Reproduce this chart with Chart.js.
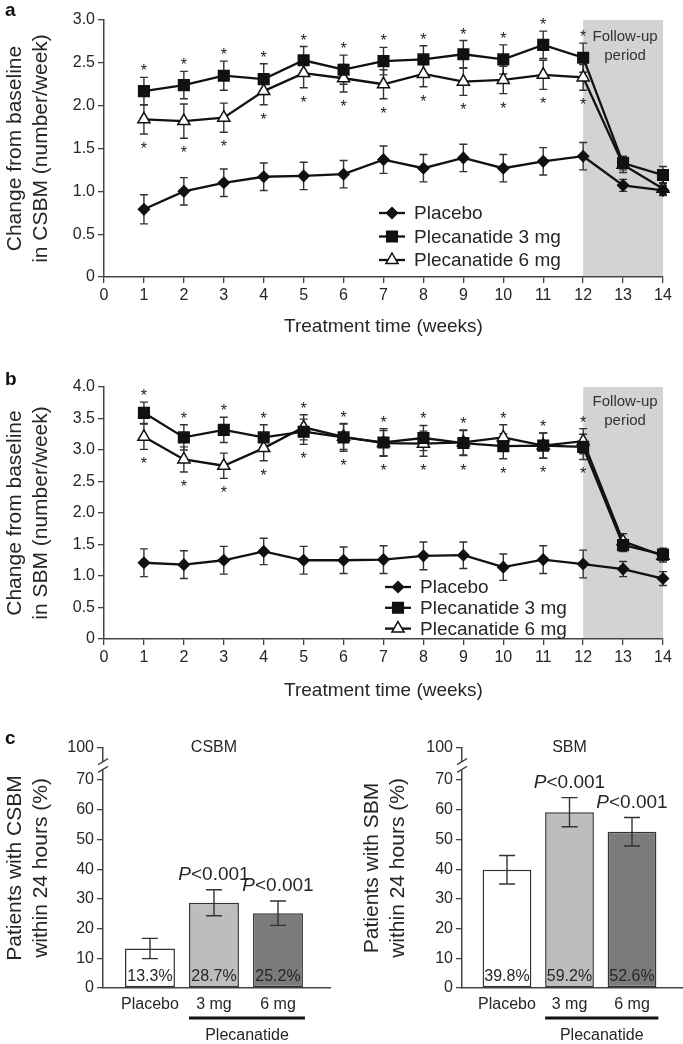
<!DOCTYPE html>
<html>
<head>
<meta charset="utf-8">
<script src="https://cdn.jsdelivr.net/npm/chart.js@4.4.1/dist/chart.umd.min.js"></script>
<style>
  body { margin: 0; background: #fff; width: 683px; height: 1044px; position: relative; overflow: hidden; font-family: "Liberation Sans", Arial, sans-serif; }
  canvas { position: absolute; }
  .panel { position: absolute; font-weight: bold; font-size: 19px; color: #111; z-index: 2; }
</style>
</head>
<body>
<canvas id="chartA" width="683" height="340" style="left:0;top:0"></canvas>
<canvas id="chartB" width="683" height="342" style="left:0;top:362px"></canvas>
<canvas id="chartC1" width="341" height="314" style="left:0;top:730px"></canvas>
<canvas id="chartC2" width="328" height="314" style="left:355px;top:730px"></canvas>
<div class="panel" style="left:5px;top:-1px">a</div>
<div class="panel" style="left:5px;top:368px">b</div>
<div class="panel" style="left:5px;top:727px">c</div>
<script>
// ---- data ----
const WEEKS = [1, 2, 3, 4, 5, 6, 7, 8, 9, 10, 11, 12, 13, 14];
const X_TICKS = [0, 1, 2, 3, 4, 5, 6, 7, 8, 9, 10, 11, 12, 13, 14];
const STAR_WEEKS = [1, 2, 3, 4, 5, 6, 7, 8, 9, 10, 11, 12];
const SERIES = ['Placebo', 'Plecanatide 3 mg', 'Plecanatide 6 mg'];
const FOLLOW_UP = ['Follow-up', 'period'];

// panel a: CSBM
const A_Y_TICKS = [0, 0.5, 1, 1.5, 2, 2.5, 3];
const A_PLACEBO = [0.79, 1.00, 1.10, 1.17, 1.18, 1.20, 1.37, 1.27, 1.39, 1.27, 1.35, 1.41, 1.07, 1.01];
const A_PLACEBO_SEM = [0.17, 0.16, 0.16, 0.16, 0.16, 0.16, 0.16, 0.16, 0.16, 0.16, 0.16, 0.16, 0.07, 0.06];
const A_3MG = [2.17, 2.24, 2.35, 2.31, 2.53, 2.42, 2.52, 2.54, 2.60, 2.54, 2.71, 2.56, 1.33, 1.19];
const A_3MG_SEM = [0.16, 0.16, 0.17, 0.18, 0.16, 0.17, 0.16, 0.16, 0.16, 0.17, 0.16, 0.17, 0.08, 0.10];
const A_6MG = [1.84, 1.82, 1.86, 2.17, 2.38, 2.32, 2.25, 2.37, 2.28, 2.30, 2.36, 2.33, 1.31, 1.03];
const A_6MG_SEM = [0.17, 0.20, 0.17, 0.16, 0.17, 0.16, 0.17, 0.15, 0.16, 0.16, 0.17, 0.15, 0.09, 0.07];

// panel b: SBM
const B_Y_TICKS = [0, 0.5, 1, 1.5, 2, 2.5, 3, 3.5, 4];
const B_PLACEBO = [1.21, 1.18, 1.25, 1.39, 1.25, 1.25, 1.26, 1.32, 1.33, 1.14, 1.26, 1.19, 1.11, 0.96];
const B_PLACEBO_SEM = [0.22, 0.22, 0.22, 0.21, 0.22, 0.21, 0.22, 0.22, 0.21, 0.21, 0.22, 0.22, 0.12, 0.11];
const B_3MG = [3.59, 3.20, 3.32, 3.20, 3.29, 3.20, 3.12, 3.19, 3.11, 3.06, 3.07, 3.05, 1.49, 1.34];
const B_3MG_SEM = [0.17, 0.20, 0.20, 0.20, 0.20, 0.22, 0.22, 0.20, 0.20, 0.20, 0.20, 0.20, 0.10, 0.10];
const B_6MG = [3.21, 2.85, 2.75, 3.03, 3.36, 3.21, 3.11, 3.10, 3.12, 3.20, 3.07, 3.14, 1.55, 1.32];
const B_6MG_SEM = [0.20, 0.20, 0.20, 0.20, 0.20, 0.20, 0.20, 0.20, 0.20, 0.20, 0.20, 0.20, 0.12, 0.10];

// panel c: bars
const BAR_CATS = ['Placebo', '3 mg', '6 mg'];
const BAR_Y_TICKS = [0, 10, 20, 30, 40, 50, 60, 70];
const CSBM_PCT = [13.3, 28.7, 25.2];
const CSBM_SEM = [3.4, 4.4, 4.1];
const SBM_PCT = [39.8, 59.2, 52.6];
const SBM_SEM = [4.8, 4.9, 4.8];
const P_LABELS = ['', 'P<0.001', 'P<0.001'];
const GROUP_LABEL = 'Plecanatide';

// ---- styling ----
const FONT = '"Liberation Sans", Arial, sans-serif';
const INK = '#262626';
const AXIS = '#444';

function marker(ctx, style, x, y, r, fill) {
  ctx.beginPath();
  if (style === 'rect') { const s = r * Math.SQRT1_2; ctx.rect(x - s, y - s, 2 * s, 2 * s); }
  else if (style === 'rectRot') { ctx.moveTo(x, y - r); ctx.lineTo(x + r, y); ctx.lineTo(x, y + r); ctx.lineTo(x - r, y); ctx.closePath(); }
  else { ctx.moveTo(x, y - r); ctx.lineTo(x + r * 0.866, y + r * 0.5); ctx.lineTo(x - r * 0.866, y + r * 0.5); ctx.closePath(); }
  ctx.fillStyle = fill; ctx.fill();
  ctx.lineWidth = 1.5; ctx.strokeStyle = '#111'; ctx.stroke();
}

function val(d) { return typeof d === 'object' ? d.y : d; }

function drawErrors(chart, cap) {
  const { ctx, scales: { y } } = chart;
  ctx.save();
  ctx.strokeStyle = '#333'; ctx.lineWidth = 1.4;
  chart.data.datasets.forEach((ds, di) => {
    if (!ds.errors) return;
    chart.getDatasetMeta(di).data.forEach((el, i) => {
      const v = val(ds.data[i]), e = ds.errors[i];
      const yt = y.getPixelForValue(v + e), yb = y.getPixelForValue(v - e);
      ctx.beginPath();
      ctx.moveTo(el.x, yt); ctx.lineTo(el.x, yb);
      ctx.moveTo(el.x - cap, yt); ctx.lineTo(el.x + cap, yt);
      ctx.moveTo(el.x - cap, yb); ctx.lineTo(el.x + cap, yb);
      ctx.stroke();
    });
  });
  ctx.restore();
}

// line panels: shading, error bars, stars, legend
const linePlugin = {
  id: 'lineDecor',
  beforeDatasetsDraw(chart, args, o) {
    const { ctx, chartArea: ca, scales: { x } } = chart;
    const x1 = x.getPixelForValue(12), x2 = x.getPixelForValue(14);
    ctx.save();
    ctx.fillStyle = '#d3d3d3';
    ctx.fillRect(x1, ca.top, x2 - x1, ca.bottom - ca.top - 1);
    ctx.fillStyle = '#333'; ctx.font = '15px ' + FONT;
    ctx.textAlign = 'center'; ctx.textBaseline = 'middle';
    FOLLOW_UP.forEach((t, i) => ctx.fillText(t, (x1 + x2) / 2 + 2, ca.top + o.followY + i * 19));
    ctx.restore();
    drawErrors(chart, 4);
  },
  afterDatasetsDraw(chart, args, o) {
    const { ctx, scales: { x, y } } = chart;
    const ds = chart.data.datasets;
    ctx.save();
    ctx.fillStyle = '#222'; ctx.font = '16px ' + FONT;
    ctx.textAlign = 'center'; ctx.textBaseline = 'alphabetic';
    STAR_WEEKS.forEach(w => {
      const i = WEEKS.indexOf(w);
      const top = Math.max(ds[1].data[i].y + ds[1].errors[i], ds[2].data[i].y + ds[2].errors[i]);
      const bot = Math.min(ds[1].data[i].y - ds[1].errors[i], ds[2].data[i].y - ds[2].errors[i]);
      const px = x.getPixelForValue(w);
      ctx.fillText('*', px, y.getPixelForValue(top) - 10 + 9);
      ctx.fillText('*', px, y.getPixelForValue(bot) + 11 + 9);
    });
    // legend
    const L = o.legend;
    ds.forEach((d, i) => {
      const ly = L.y + i * L.row;
      ctx.strokeStyle = '#111'; ctx.lineWidth = 2.3;
      ctx.beginPath(); ctx.moveTo(L.x, ly); ctx.lineTo(L.x + 26, ly); ctx.stroke();
      marker(ctx, d.pointStyle, L.x + 13, ly, d.pointRadius, d.pointBackgroundColor);
      ctx.fillStyle = INK; ctx.font = '19px ' + FONT;
      ctx.textAlign = 'left'; ctx.textBaseline = 'middle';
      ctx.fillText(d.label, L.x + 35, ly + 1);
    });
    ctx.restore();
  }
};

function lineChart(id, c) {
  const mk = (label, vals, errs, style, r, fill) => ({
    label, data: WEEKS.map((w, i) => ({ x: w, y: vals[i] })), errors: errs,
    borderColor: '#111', borderWidth: 2.3, tension: 0, clip: false,
    pointStyle: style, pointRadius: r, pointBackgroundColor: fill,
    pointBorderColor: '#111', pointBorderWidth: 1.5
  });
  return new Chart(document.getElementById(id), {
    type: 'line',
    data: { datasets: [
      mk(SERIES[0], c.placebo, c.placeboErr, 'rectRot', 5.5, '#111'),
      mk(SERIES[1], c.mg3, c.mg3Err, 'rect', 7.5, '#111'),
      mk(SERIES[2], c.mg6, c.mg6Err, 'triangle', 7, '#fff')
    ] },
    plugins: [linePlugin],
    options: {
      responsive: false, animation: false, events: [],
      layout: { padding: { top: c.top, right: 20, left: 0, bottom: 0 } },
      plugins: { legend: { display: false }, tooltip: { enabled: false },
        lineDecor: { legend: c.legend, followY: c.followY } },
      scales: {
        x: {
          type: 'linear', min: 0, max: 14,
          afterFit: s => { s.height = c.xH; },
          afterBuildTicks: s => { s.ticks = X_TICKS.map(v => ({ value: v })); },
          ticks: { font: { family: FONT, size: 16 }, color: INK, padding: 3, maxRotation: 0, autoSkip: false },
          grid: { drawOnChartArea: false, tickLength: 6, color: AXIS, lineWidth: 1.3 },
          border: { color: AXIS, width: 1.5 },
          title: { display: true, text: 'Treatment time (weeks)', font: { family: FONT, size: 19 }, color: INK, padding: { top: 0, bottom: 2 } }
        },
        y: {
          min: 0, max: c.ymax,
          afterFit: s => { s.width = 104; },
          afterBuildTicks: s => { s.ticks = c.yTicks.map(v => ({ value: v })); },
          ticks: { font: { family: FONT, size: 16 }, color: INK, padding: 3, callback: v => v === 0 ? '0' : v.toFixed(1) },
          grid: { drawOnChartArea: false, tickLength: 6, color: AXIS, lineWidth: 1.3 },
          border: { color: AXIS, width: 1.5 },
          title: { display: true, text: c.ytitle, font: { family: FONT, size: 21 }, color: INK, padding: { top: 3, bottom: 0 } }
        }
      }
    }
  });
}

lineChart('chartA', {
  placebo: A_PLACEBO, placeboErr: A_PLACEBO_SEM, mg3: A_3MG, mg3Err: A_3MG_SEM, mg6: A_6MG, mg6Err: A_6MG_SEM,
  ymax: 3, yTicks: A_Y_TICKS, top: 20, xH: 63, followY: 17,
  ytitle: ['Change from baseline', 'in CSBM (number/week)'],
  legend: { x: 379, y: 213, row: 23.5 }
});
lineChart('chartB', {
  placebo: B_PLACEBO, placeboErr: B_PLACEBO_SEM, mg3: B_3MG, mg3Err: B_3MG_SEM, mg6: B_6MG, mg6Err: B_6MG_SEM,
  ymax: 4, yTicks: B_Y_TICKS, top: 25, xH: 65, followY: 15,
  ytitle: ['Change from baseline', 'in SBM (number/week)'],
  legend: { x: 385, y: 225, row: 20.8 }
});

// bar panels
const barPlugin = {
  id: 'barDecor',
  afterDatasetsDraw(chart, args, o) {
    const { ctx, chartArea: ca, scales: { y } } = chart;
    drawErrors(chart, 8);
    const ds = chart.data.datasets[0];
    const bars = chart.getDatasetMeta(0).data;
    ctx.save();
    ctx.fillStyle = INK; ctx.textAlign = 'center'; ctx.textBaseline = 'middle';
    // values inside bars
    ctx.font = '16px ' + FONT;
    bars.forEach((el, i) => ctx.fillText(ds.data[i].y.toFixed(1) + '%', el.x, ca.bottom - 11));
    // p-values
    bars.forEach((el, i) => {
      if (!P_LABELS[i]) return;
      const py = y.getPixelForValue(ds.data[i].y + ds.errors[i]) - 15;
      const rest = P_LABELS[i].slice(1);
      ctx.font = 'italic 19px ' + FONT; const wP = ctx.measureText('P').width;
      ctx.font = '19px ' + FONT; const wR = ctx.measureText(rest).width;
      const x0 = el.x - (wP + wR) / 2;
      ctx.textAlign = 'left';
      ctx.font = 'italic 19px ' + FONT; ctx.fillText('P', x0, py);
      ctx.font = '19px ' + FONT; ctx.fillText(rest, x0 + wP, py);
      ctx.textAlign = 'center';
    });
    // title
    ctx.font = '16px ' + FONT;
    ctx.fillText(o.title, bars[1].x, ca.top);
    // group line
    const gx1 = bars[1].x - bars[1].width / 2, gx2 = bars[2].x + bars[2].width / 2 + 2;
    ctx.strokeStyle = '#111'; ctx.lineWidth = 3;
    ctx.beginPath(); ctx.moveTo(gx1, ca.bottom + 30); ctx.lineTo(gx2, ca.bottom + 30); ctx.stroke();
    ctx.fillText(GROUP_LABEL, (gx1 + gx2) / 2, ca.bottom + 48);
    // axis break
    const ax = ca.left, b1 = y.getPixelForValue(73.6), b2 = y.getPixelForValue(76.2);
    ctx.fillStyle = '#fff'; ctx.fillRect(ax - 3, b2, 6, b1 - b2);
    ctx.strokeStyle = AXIS; ctx.lineWidth = 1.3;
    ctx.beginPath();
    ctx.moveTo(ax - 5, b1 + 3); ctx.lineTo(ax + 5, b1 - 3);
    ctx.moveTo(ax - 5, b2 + 3); ctx.lineTo(ax + 5, b2 - 3);
    ctx.stroke();
    ctx.restore();
  }
};

function barChart(id, c) {
  return new Chart(document.getElementById(id), {
    type: 'bar',
    data: { datasets: [{
      data: BAR_CATS.map((cat, i) => ({ x: i + 1, y: c.vals[i] })), errors: c.errs,
      backgroundColor: ['#ffffff', '#bdbdbd', '#7b7b7b'], borderColor: '#333', borderWidth: 1.5,
      borderSkipped: false, barPercentage: 0.78, categoryPercentage: 1
    }] },
    plugins: [barPlugin],
    options: {
      responsive: false, animation: false, events: [],
      layout: { padding: { top: 18, right: c.right, left: 0, bottom: 0 } },
      plugins: { legend: { display: false }, tooltip: { enabled: false }, barDecor: { title: c.title } },
      scales: {
        x: {
          type: 'linear', min: c.xmin, max: c.xmax, offset: false,
          afterFit: s => { s.height = 56; },
          afterBuildTicks: s => { s.ticks = BAR_CATS.map((cat, i) => ({ value: i + 1 })); },
          ticks: { font: { family: FONT, size: 16 }, color: INK, padding: 7, callback: v => BAR_CATS[v - 1] },
          grid: { display: false, drawTicks: false, offset: false },
          border: { display: true, color: AXIS, width: 1.5 }
        },
        y: {
          min: 0, max: 80.8,
          afterFit: s => { s.width = c.yW; },
          afterBuildTicks: s => { s.ticks = BAR_Y_TICKS.concat([80.8]).map(v => ({ value: v })); },
          ticks: { font: { family: FONT, size: 16 }, color: INK, padding: 3, callback: v => v > 75 ? '100' : String(v) },
          grid: { drawOnChartArea: false, tickLength: 6, color: AXIS, lineWidth: 1.3 },
          border: { color: AXIS, width: 1.5 },
          title: { display: true, text: c.ytitle, font: { family: FONT, size: 21 }, color: INK, padding: { top: c.tpad, bottom: 0 } }
        }
      }
    }
  });
}

barChart('chartC1', {
  vals: CSBM_PCT, errs: CSBM_SEM, title: 'CSBM', xmin: 0.266, xmax: 3.8125, right: 11, yW: 103, tpad: 3,
  ytitle: ['Patients with CSBM', 'within 24 hours (%)']
});
barChart('chartC2', {
  vals: SBM_PCT, errs: SBM_SEM, title: 'SBM', xmin: 0.28, xmax: 3.816, right: 0, yW: 107, tpad: 5,
  ytitle: ['Patients with SBM', 'within 24 hours (%)']
});
</script>
</body>
</html>
